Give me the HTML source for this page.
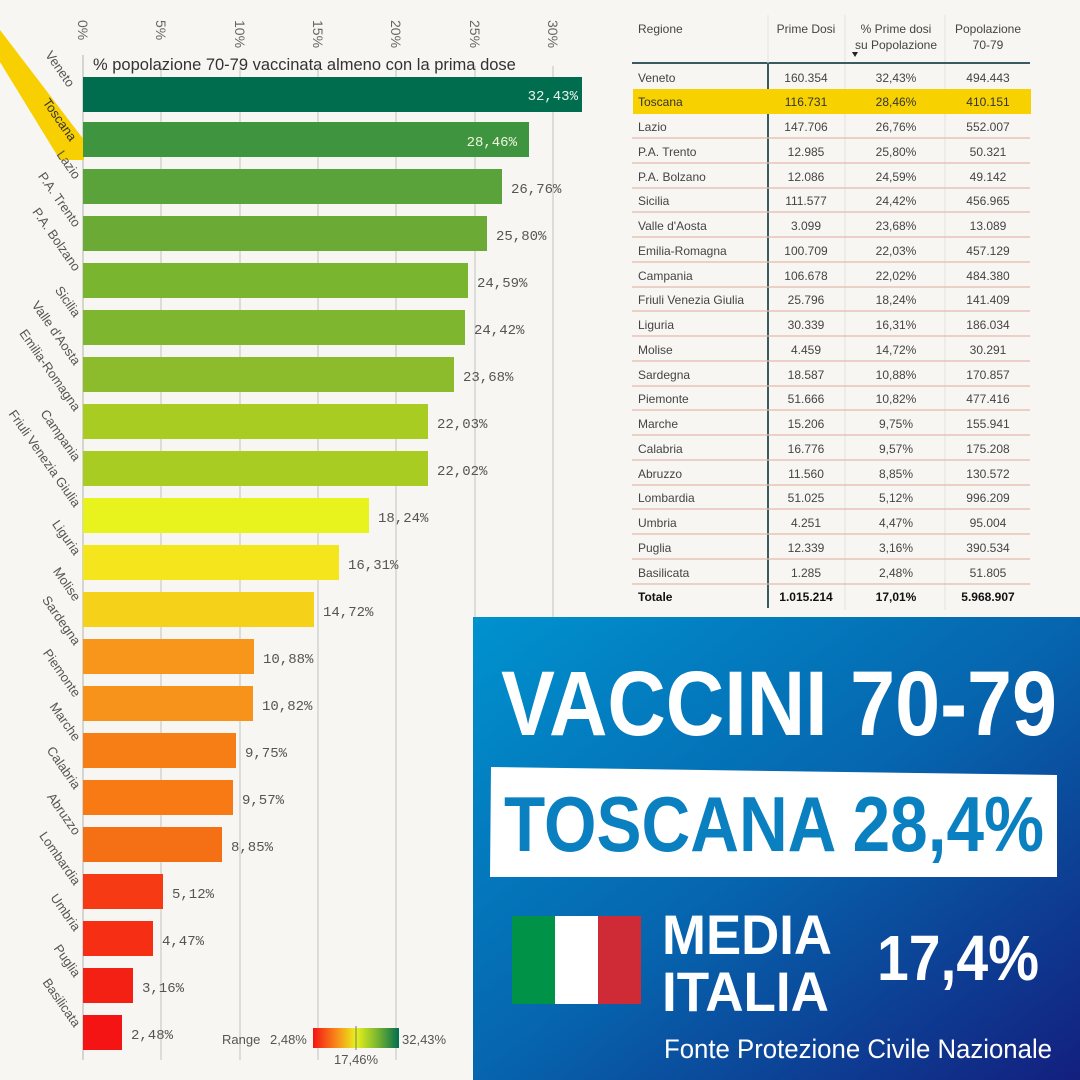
<!DOCTYPE html>
<html><head><meta charset="utf-8"><style>
html,body{margin:0;padding:0;background:#f7f6f2;}
svg{display:block}
</style></head><body>
<svg width="1080" height="1080" xmlns="http://www.w3.org/2000/svg" font-family="Liberation Sans, sans-serif">
<defs>
<linearGradient id="bg" x1="0" y1="0" x2="1" y2="1">
<stop offset="0" stop-color="#0092cf"/><stop offset="0.5" stop-color="#0665ae"/><stop offset="1" stop-color="#131f7e"/>
</linearGradient>
<linearGradient id="lg" x1="0" x2="1">
<stop offset="0" stop-color="#f51414"/><stop offset="0.3" stop-color="#f7961a"/><stop offset="0.5" stop-color="#e8f21c"/><stop offset="0.75" stop-color="#7ab530"/><stop offset="1" stop-color="#006e4e"/>
</linearGradient>
</defs>
<rect width="1080" height="1080" fill="#f7f6f2"/>
<g stroke="#dcdcd8" stroke-width="2">
<line x1="161" y1="66" x2="161" y2="1060"/><line x1="240" y1="66" x2="240" y2="1060"/><line x1="318" y1="66" x2="318" y2="1060"/><line x1="396" y1="66" x2="396" y2="1060"/><line x1="475" y1="66" x2="475" y2="1060"/><line x1="553" y1="66" x2="553" y2="1060"/>
</g>
<line x1="83" y1="55" x2="83" y2="1060" stroke="#c8c8c4" stroke-width="1.5"/>
<g font-size="14" fill="#666">
<text transform="translate(78,20) rotate(90)">0%</text>
<text transform="translate(156,20) rotate(90)">5%</text>
<text transform="translate(235,20) rotate(90)">10%</text>
<text transform="translate(313,20) rotate(90)">15%</text>
<text transform="translate(391,20) rotate(90)">20%</text>
<text transform="translate(470,20) rotate(90)">25%</text>
<text transform="translate(548,20) rotate(90)">30%</text>
</g>
<text x="93" y="70" font-size="16.5" fill="#333">% popolazione 70-79 vaccinata almeno con la prima dose</text>
<polygon points="0,30 0,62 60,160 84,160 84,140" fill="#f8cf00"/>
<g>
<rect x="83" y="77" width="499" height="35" fill="#006e4e"/>
<rect x="83" y="122" width="446" height="35" fill="#3f9440"/>
<rect x="83" y="169" width="419" height="35" fill="#5aa23a"/>
<rect x="83" y="216" width="404" height="35" fill="#6aaa35"/>
<rect x="83" y="263" width="385" height="35" fill="#7ab530"/>
<rect x="83" y="310" width="382" height="35" fill="#7eb630"/>
<rect x="83" y="357" width="371" height="35" fill="#8cbb2c"/>
<rect x="83" y="404" width="345" height="35" fill="#a8cc22"/>
<rect x="83" y="451" width="345" height="35" fill="#a8cc22"/>
<rect x="83" y="498" width="286" height="35" fill="#e8f21c"/>
<rect x="83" y="545" width="256" height="35" fill="#f5e51c"/>
<rect x="83" y="592" width="231" height="35" fill="#f6d11a"/>
<rect x="83" y="639" width="171" height="35" fill="#f7961a"/>
<rect x="83" y="686" width="170" height="35" fill="#f7921a"/>
<rect x="83" y="733" width="153" height="35" fill="#f77e14"/>
<rect x="83" y="780" width="150" height="35" fill="#f77a14"/>
<rect x="83" y="827" width="139" height="35" fill="#f57014"/>
<rect x="83" y="874" width="80" height="35" fill="#f53a14"/>
<rect x="83" y="921" width="70" height="35" fill="#f52e14"/>
<rect x="83" y="968" width="50" height="35" fill="#f52014"/>
<rect x="83" y="1015" width="39" height="35" fill="#f51414"/>
</g>
<g font-family="Liberation Mono, monospace" font-size="14" fill="#555">
<text x="578" y="100" text-anchor="end" fill="#e8f4ea">32,43%</text>
<text x="517" y="146" text-anchor="end" fill="#f0f4e0">28,46%</text>
<text x="511" y="193">26,76%</text>
<text x="496" y="240">25,80%</text>
<text x="477" y="287">24,59%</text>
<text x="474" y="334">24,42%</text>
<text x="463" y="381">23,68%</text>
<text x="437" y="428">22,03%</text>
<text x="437" y="475">22,02%</text>
<text x="378" y="522">18,24%</text>
<text x="348" y="569">16,31%</text>
<text x="323" y="616">14,72%</text>
<text x="263" y="663">10,88%</text>
<text x="262" y="710">10,82%</text>
<text x="245" y="757">9,75%</text>
<text x="242" y="804">9,57%</text>
<text x="231" y="851">8,85%</text>
<text x="172" y="898">5,12%</text>
<text x="162" y="945">4,47%</text>
<text x="142" y="992">3,16%</text>
<text x="131" y="1039">2,48%</text>
</g>
<g font-size="13" fill="#555" text-anchor="end">
<text transform="translate(68,88) rotate(55)">Veneto</text>
<text transform="translate(70,142) rotate(55)" fill="#333">Toscana</text>
<text transform="translate(74,180) rotate(55)">Lazio</text>
<text transform="translate(74,228) rotate(55)">P.A. Trento</text>
<text transform="translate(74,272) rotate(55)">P.A. Bolzano</text>
<text transform="translate(74,318) rotate(55)">Sicilia</text>
<text transform="translate(74,366) rotate(55)">Valle d'Aosta</text>
<text transform="translate(74,412) rotate(55)">Emilia-Romagna</text>
<text transform="translate(74,462) rotate(55)">Campania</text>
<text transform="translate(74,508) rotate(55)">Friuli Venezia Giulia</text>
<text transform="translate(74,556) rotate(55)">Liguria</text>
<text transform="translate(74,602) rotate(55)">Molise</text>
<text transform="translate(74,646) rotate(55)">Sardegna</text>
<text transform="translate(74,698) rotate(55)">Piemonte</text>
<text transform="translate(74,742) rotate(55)">Marche</text>
<text transform="translate(74,790) rotate(55)">Calabria</text>
<text transform="translate(74,836) rotate(55)">Abruzzo</text>
<text transform="translate(74,886) rotate(55)">Lombardia</text>
<text transform="translate(74,932) rotate(55)">Umbria</text>
<text transform="translate(74,978) rotate(55)">Puglia</text>
<text transform="translate(74,1028) rotate(55)">Basilicata</text>
</g>
<text x="222" y="1044" font-size="13" fill="#555">Range</text>
<text x="270" y="1044" font-size="13" fill="#555">2,48%</text>
<rect x="313" y="1028" width="86" height="20" fill="url(#lg)"/>
<line x1="356" y1="1026" x2="356" y2="1050" stroke="#777" stroke-width="1"/>
<text x="402" y="1044" font-size="13" fill="#555">32,43%</text>
<text x="334" y="1064" font-size="13" fill="#555">17,46%</text>
<g stroke="#e4e2de" stroke-width="1">
<line x1="845" y1="15" x2="845" y2="610"/><line x1="945" y1="15" x2="945" y2="610"/>
</g>
<line x1="632" y1="63" x2="1030" y2="63" stroke="#3a5a60" stroke-width="2"/>
<line x1="768" y1="15" x2="768" y2="63" stroke="#e4e2de"/>
<line x1="768" y1="63" x2="768" y2="608" stroke="#3a5a60" stroke-width="2"/>
<rect x="633" y="89" width="398" height="25" fill="#f8d200"/>
<g stroke="#e5b8ac" stroke-width="1.2">
<line x1="632" y1="138" x2="1030" y2="138"/><line x1="632" y1="163" x2="1030" y2="163"/><line x1="632" y1="188" x2="1030" y2="188"/><line x1="632" y1="212" x2="1030" y2="212"/><line x1="632" y1="237" x2="1030" y2="237"/><line x1="632" y1="262" x2="1030" y2="262"/><line x1="632" y1="287" x2="1030" y2="287"/><line x1="632" y1="311" x2="1030" y2="311"/><line x1="632" y1="336" x2="1030" y2="336"/><line x1="632" y1="361" x2="1030" y2="361"/><line x1="632" y1="386" x2="1030" y2="386"/><line x1="632" y1="410" x2="1030" y2="410"/><line x1="632" y1="435" x2="1030" y2="435"/><line x1="632" y1="460" x2="1030" y2="460"/><line x1="632" y1="485" x2="1030" y2="485"/><line x1="632" y1="509" x2="1030" y2="509"/><line x1="632" y1="534" x2="1030" y2="534"/><line x1="632" y1="559" x2="1030" y2="559"/><line x1="632" y1="584" x2="1030" y2="584"/>
</g>
<g font-size="12" fill="#444">
<text x="638" y="33">Regione</text>
<text x="806" y="33" text-anchor="middle">Prime Dosi</text>
<text x="896" y="33" text-anchor="middle">% Prime dosi</text>
<text x="896" y="49" text-anchor="middle">su Popolazione</text>
<polygon points="852,52 858,52 855,57" fill="#222"/>
<text x="988" y="33" text-anchor="middle">Popolazione</text>
<text x="988" y="49" text-anchor="middle">70-79</text>
</g>
<g font-size="12" fill="#444">
<g><text x="638" y="82">Veneto</text><text x="806" y="82" text-anchor="middle">160.354</text><text x="896" y="82" text-anchor="middle">32,43%</text><text x="988" y="82" text-anchor="middle">494.443</text></g>
<g fill="#333"><text x="638" y="106">Toscana</text><text x="806" y="106" text-anchor="middle">116.731</text><text x="896" y="106" text-anchor="middle">28,46%</text><text x="988" y="106" text-anchor="middle">410.151</text></g>
<g><text x="638" y="131">Lazio</text><text x="806" y="131" text-anchor="middle">147.706</text><text x="896" y="131" text-anchor="middle">26,76%</text><text x="988" y="131" text-anchor="middle">552.007</text></g>
<g><text x="638" y="156">P.A. Trento</text><text x="806" y="156" text-anchor="middle">12.985</text><text x="896" y="156" text-anchor="middle">25,80%</text><text x="988" y="156" text-anchor="middle">50.321</text></g>
<g><text x="638" y="181">P.A. Bolzano</text><text x="806" y="181" text-anchor="middle">12.086</text><text x="896" y="181" text-anchor="middle">24,59%</text><text x="988" y="181" text-anchor="middle">49.142</text></g>
<g><text x="638" y="205">Sicilia</text><text x="806" y="205" text-anchor="middle">111.577</text><text x="896" y="205" text-anchor="middle">24,42%</text><text x="988" y="205" text-anchor="middle">456.965</text></g>
<g><text x="638" y="230">Valle d'Aosta</text><text x="806" y="230" text-anchor="middle">3.099</text><text x="896" y="230" text-anchor="middle">23,68%</text><text x="988" y="230" text-anchor="middle">13.089</text></g>
<g><text x="638" y="255">Emilia-Romagna</text><text x="806" y="255" text-anchor="middle">100.709</text><text x="896" y="255" text-anchor="middle">22,03%</text><text x="988" y="255" text-anchor="middle">457.129</text></g>
<g><text x="638" y="280">Campania</text><text x="806" y="280" text-anchor="middle">106.678</text><text x="896" y="280" text-anchor="middle">22,02%</text><text x="988" y="280" text-anchor="middle">484.380</text></g>
<g><text x="638" y="304">Friuli Venezia Giulia</text><text x="806" y="304" text-anchor="middle">25.796</text><text x="896" y="304" text-anchor="middle">18,24%</text><text x="988" y="304" text-anchor="middle">141.409</text></g>
<g><text x="638" y="329">Liguria</text><text x="806" y="329" text-anchor="middle">30.339</text><text x="896" y="329" text-anchor="middle">16,31%</text><text x="988" y="329" text-anchor="middle">186.034</text></g>
<g><text x="638" y="354">Molise</text><text x="806" y="354" text-anchor="middle">4.459</text><text x="896" y="354" text-anchor="middle">14,72%</text><text x="988" y="354" text-anchor="middle">30.291</text></g>
<g><text x="638" y="379">Sardegna</text><text x="806" y="379" text-anchor="middle">18.587</text><text x="896" y="379" text-anchor="middle">10,88%</text><text x="988" y="379" text-anchor="middle">170.857</text></g>
<g><text x="638" y="403">Piemonte</text><text x="806" y="403" text-anchor="middle">51.666</text><text x="896" y="403" text-anchor="middle">10,82%</text><text x="988" y="403" text-anchor="middle">477.416</text></g>
<g><text x="638" y="428">Marche</text><text x="806" y="428" text-anchor="middle">15.206</text><text x="896" y="428" text-anchor="middle">9,75%</text><text x="988" y="428" text-anchor="middle">155.941</text></g>
<g><text x="638" y="453">Calabria</text><text x="806" y="453" text-anchor="middle">16.776</text><text x="896" y="453" text-anchor="middle">9,57%</text><text x="988" y="453" text-anchor="middle">175.208</text></g>
<g><text x="638" y="478">Abruzzo</text><text x="806" y="478" text-anchor="middle">11.560</text><text x="896" y="478" text-anchor="middle">8,85%</text><text x="988" y="478" text-anchor="middle">130.572</text></g>
<g><text x="638" y="502">Lombardia</text><text x="806" y="502" text-anchor="middle">51.025</text><text x="896" y="502" text-anchor="middle">5,12%</text><text x="988" y="502" text-anchor="middle">996.209</text></g>
<g><text x="638" y="527">Umbria</text><text x="806" y="527" text-anchor="middle">4.251</text><text x="896" y="527" text-anchor="middle">4,47%</text><text x="988" y="527" text-anchor="middle">95.004</text></g>
<g><text x="638" y="552">Puglia</text><text x="806" y="552" text-anchor="middle">12.339</text><text x="896" y="552" text-anchor="middle">3,16%</text><text x="988" y="552" text-anchor="middle">390.534</text></g>
<g><text x="638" y="577">Basilicata</text><text x="806" y="577" text-anchor="middle">1.285</text><text x="896" y="577" text-anchor="middle">2,48%</text><text x="988" y="577" text-anchor="middle">51.805</text></g>
<g font-weight="bold" fill="#111"><text x="638" y="601">Totale</text><text x="806" y="601" text-anchor="middle">1.015.214</text><text x="896" y="601" text-anchor="middle">17,01%</text><text x="988" y="601" text-anchor="middle">5.968.907</text></g>
</g>
<rect x="473" y="617" width="607" height="463" fill="url(#bg)"/>
<text x="779" y="735" text-anchor="middle" font-family="Liberation Sans Narrow, Liberation Sans, sans-serif" font-weight="bold" font-size="92" fill="#fff" textLength="556" lengthAdjust="spacingAndGlyphs">VACCINI 70-79</text>
<polygon points="491,767 1057,775 1057,877 490,877" fill="#fff"/>
<text x="774" y="851" text-anchor="middle" font-family="Liberation Sans Narrow, Liberation Sans, sans-serif" font-weight="bold" font-size="78" fill="#0a80c0" textLength="540" lengthAdjust="spacingAndGlyphs">TOSCANA 28,4%</text>
<rect x="512" y="916" width="43" height="88" fill="#009246"/>
<rect x="555" y="916" width="43" height="88" fill="#fff"/>
<rect x="598" y="916" width="43" height="88" fill="#ce2b37"/>
<text x="662" y="954" font-family="Liberation Sans Narrow, Liberation Sans, sans-serif" font-weight="bold" font-size="56" fill="#fff" textLength="170" lengthAdjust="spacingAndGlyphs">MEDIA</text>
<text x="662" y="1011" font-family="Liberation Sans Narrow, Liberation Sans, sans-serif" font-weight="bold" font-size="56" fill="#fff" textLength="167" lengthAdjust="spacingAndGlyphs">ITALIA</text>
<text x="877" y="980" font-family="Liberation Sans Narrow, Liberation Sans, sans-serif" font-weight="bold" font-size="64" fill="#fff" textLength="162" lengthAdjust="spacingAndGlyphs">17,4%</text>
<text x="664" y="1058" font-family="Liberation Sans Narrow, Liberation Sans, sans-serif" font-size="27" fill="#fff" textLength="388" lengthAdjust="spacingAndGlyphs">Fonte Protezione Civile Nazionale</text>
</svg>
</body></html>
